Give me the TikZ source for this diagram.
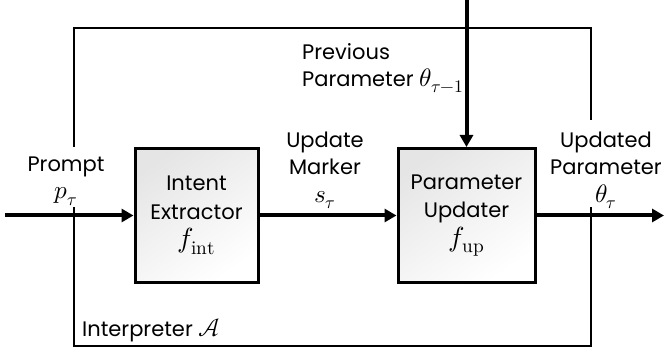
\documentclass[tikz,border=0pt]{standalone}
\usepackage{fontspec}
\usepackage{unicode-math}
\setmainfont{Poppins}
\setmathfont{Latin Modern Math}[Scale=1.2]
\usetikzlibrary{arrows.meta}
\newcommand{\boxmath}[1]{{\fontsize{23}{28.5}\selectfont$#1$}}
\begin{document}
\begin{tikzpicture}[x=1pt,y=-1pt,
  txt/.style={inner sep=0pt, align=center, font=\fontsize{21}{27.5}\selectfont},
  blockbox/.style={draw=black, line width=3pt, inner sep=0pt, align=center,
    font=\fontsize{21}{28.5}\selectfont,
    top color=black!10, bottom color=white, shading angle=35},
  mainarrow/.style={line width=4pt, -{Triangle[length=12pt,width=13pt]}},
  frameline/.style={line width=2.6pt}
]
\useasboundingbox (0,0) rectangle (665,350);
% blocks
\node[blockbox, minimum width=123pt, minimum height=134pt] (ie) at (196.5,215.5) {Intent\\Extractor\\\boxmath{f_{\symup{int}}}};
\node[blockbox, minimum width=137pt, minimum height=134pt] (pu) at (466.5,215.5) {Parameter\\Updater\\\boxmath{f_{\symup{up}}}};
% free ends
\coordinate (in) at (5,215.5);
\coordinate (out) at (664,215.5);
\coordinate (topin) at (466.5,0);
% frame corners
\coordinate (fl1) at (74,147);
\coordinate (flt) at (74,28);
\coordinate (frt) at (591,28);
\coordinate (fr1) at (591,120);
\coordinate (fl2) at (74,207);
\coordinate (flb) at (74,346);
\coordinate (frb) at (591,346);
\coordinate (fr2) at (591,207);
\draw[frameline] (fl1) -- (flt) -- (frt) -- (fr1);
\draw[frameline] (fl2) -- (flb) -- (frb) -- (fr2);
% arrows
\draw[mainarrow] (in) -- (ie.west);
\draw[mainarrow] (ie.east) -- (pu.west);
\draw[mainarrow] (pu.east) -- (out);
\draw[mainarrow] (topin) -- (pu.north);
% labels
\node[txt] (prompt) at (66,181) {Prompt\\$p_\tau$};
\node[txt] (marker) at (325,170) {Update\\Marker\\$s_\tau$};
\node[txt] (updated) at (606,170) {Updated\\Parameter\\$\theta_\tau$};
\node[txt, align=left, anchor=west] (prev) at (302,68) {Previous\\Parameter $\theta_{\tau-1}$};
\node[txt, anchor=base west] (interp) at (82,337) {Interpreter $\mathcal{A}$};
\end{tikzpicture}
\end{document}
